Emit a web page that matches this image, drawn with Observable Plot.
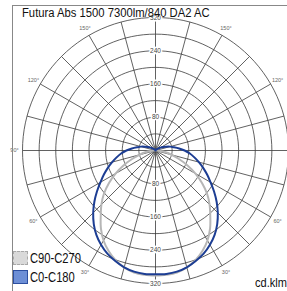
<!DOCTYPE html>
<html><head><meta charset="utf-8">
<script src="https://cdn.jsdelivr.net/npm/d3@7"></script>
<script src="https://cdn.jsdelivr.net/npm/@observablehq/plot@0.6"></script>
<style>
html,body{margin:0;padding:0;background:#fff;}
#wrap{position:relative;width:287px;height:291px;overflow:hidden;font-family:"Liberation Sans",Arial,sans-serif;}
#chart svg{display:block;}
.ov{position:absolute;white-space:nowrap;transform-origin:0 0;color:#111;line-height:1;}
.sw{position:absolute;box-sizing:border-box;}
</style></head><body>
<div id="wrap">
  <div id="chart"></div>
  <div id="frame" style="position:absolute;left:12px;top:5px;width:300px;height:300px;border-left:1px solid #888;border-top:1px solid #888;pointer-events:none"></div>
  <div class="ov" id="title" style="left:22px;top:6.7px;font-size:12.5px;transform:scaleX(0.9)"></div>
  <div id="legend"></div>
  <div class="ov" id="unit" style="left:255px;top:276px;font-size:13.5px;transform:scaleX(0.82)"></div>
</div>
<script>
// ---- data ----
const titleText = "Futura Abs 1500 7300lm/840 DA2 AC";
const unitText = "cd.klm";
const gammaAngles = [0,5,10,15,20,25,30,35,40,45,50,55,60,65,70,75,80,85,90,95,100,105,110,115,120,125,130,135,140,145,150,155,160,165,170,175,180];
const c0c180 = [298,298,296,291,283,274,262,248,231,212,192,172,153,137,122,108,95,83,70,57,45,36,27,20,14,9,6,4,2,1,0,0,0,0,0,0,0];
const c90c270 = [301,300,298,291,281,267,250,229,205,184,162,137,111,85,60,40,25,12,3,0,0,0,0,0,0,0,0,0,0,0,0,0,0,0,0,0,0];
const seriesNames = ["C90-C270", "C0-C180"];
const ringValues = [40,80,120,160,200,240,280,320];
const ringLabels = [80,160,240,320];
const spokeAngles = [0,15,30,45,60,75,90,105,120,135,150,165,180,195,210,225,240,255,270,285,300,315,330,345];
const leftAngleLabels = [30,60,90,120,150];
const rightAngleLabels = [30,60,120,150];
const maxValue = 320;

// ---- styles ----
const seriesColors = ["#b6b6b6", "#1c3d93"];
const W = 287, H = 291, cx = 155, cy = 150, R = 133;
const rad = d => d * Math.PI / 180;

function curvePoints(values, name) {
  const pts = [];
  gammaAngles.forEach((g, i) => pts.push({name, x: values[i] * Math.sin(rad(g)), y: -values[i] * Math.cos(rad(g))}));
  for (let i = gammaAngles.length - 1; i >= 0; i--) {
    const g = gammaAngles[i];
    pts.push({name, x: -values[i] * Math.sin(rad(g)), y: -values[i] * Math.cos(rad(g))});
  }
  return pts;
}
const seriesData = [curvePoints(c90c270, seriesNames[0]), curvePoints(c0c180, seriesNames[1])];

const ringPts = [];
ringValues.forEach(v => { for (let a = 0; a <= 360; a += 3) ringPts.push({v, x: v * Math.sin(rad(a)), y: -v * Math.cos(rad(a))}); });
const spokes = spokeAngles.map(a => ({x: maxValue * Math.sin(rad(a)), y: -maxValue * Math.cos(rad(a))}));
const ringText = [];
ringLabels.forEach(v => { ringText.push({t: String(v), x: 0, y: v}); ringText.push({t: String(v), x: 0, y: -v}); });
const lr = maxValue * 141 / R;
const angText = [{t: "0°", x: 0, y: -maxValue * 143 / R}];
leftAngleLabels.forEach(a => angText.push({t: a + "°", x: -lr * Math.sin(rad(a)), y: -lr * Math.cos(rad(a))}));
rightAngleLabels.forEach(a => angText.push({t: a + "°", x: lr * Math.sin(rad(a)), y: -lr * Math.cos(rad(a))}));

const plot = Plot.plot({
  width: W, height: H, margin: 0,
  x: {domain: [-(cx / R) * maxValue, ((W - cx) / R) * maxValue], axis: null},
  y: {domain: [-((H - cy) / R) * maxValue, (cy / R) * maxValue], axis: null},
  style: {fontFamily: "'Liberation Sans', Arial, sans-serif", background: "white", overflow: "visible"},
  marks: [
    Plot.line(ringPts, {x: "x", y: "y", z: "v", stroke: "#3a3a3a", strokeWidth: 0.8}),
    Plot.link(spokes, {x1: 0, y1: 0, x2: "x", y2: "y", stroke: "#3a3a3a", strokeWidth: 0.8}),
    Plot.text(ringText, {x: "x", y: "y", text: "t", fontSize: 6.5, fill: "#444", stroke: "white", strokeWidth: 3}),
    Plot.text(angText, {x: "x", y: "y", text: "t", fontSize: 5.5, fill: "#666"}),
    Plot.line(seriesData[0], {x: "x", y: "y", stroke: seriesColors[0], strokeWidth: 2, curve: "catmull-rom"}),
    Plot.line(seriesData[1], {x: "x", y: "y", stroke: seriesColors[1], strokeWidth: 2, curve: "catmull-rom"})
  ]
});
document.getElementById("chart").appendChild(plot);
document.getElementById("title").textContent = titleText;
document.getElementById("unit").textContent = unitText;

// legend
const legend = document.getElementById("legend");
const swStyles = [
  "left:13px;top:251px;width:15px;height:14px;background:#d9d9d9;border:1px dashed #a8a8a8;",
  "left:13px;top:270px;width:15px;height:14px;background:#6d8fd6;border:1px solid #2c4fa0;"
];
const txtTops = [250.8, 270.3];
seriesNames.forEach((n, i) => {
  const s = document.createElement("div"); s.className = "sw"; s.style.cssText = swStyles[i]; legend.appendChild(s);
  const t = document.createElement("div"); t.className = "ov"; t.textContent = n;
  t.style.cssText = `left:30px;top:${txtTops[i]}px;font-size:14px;transform:scaleX(0.8);`;
  legend.appendChild(t);
});
</script>
</body></html>
